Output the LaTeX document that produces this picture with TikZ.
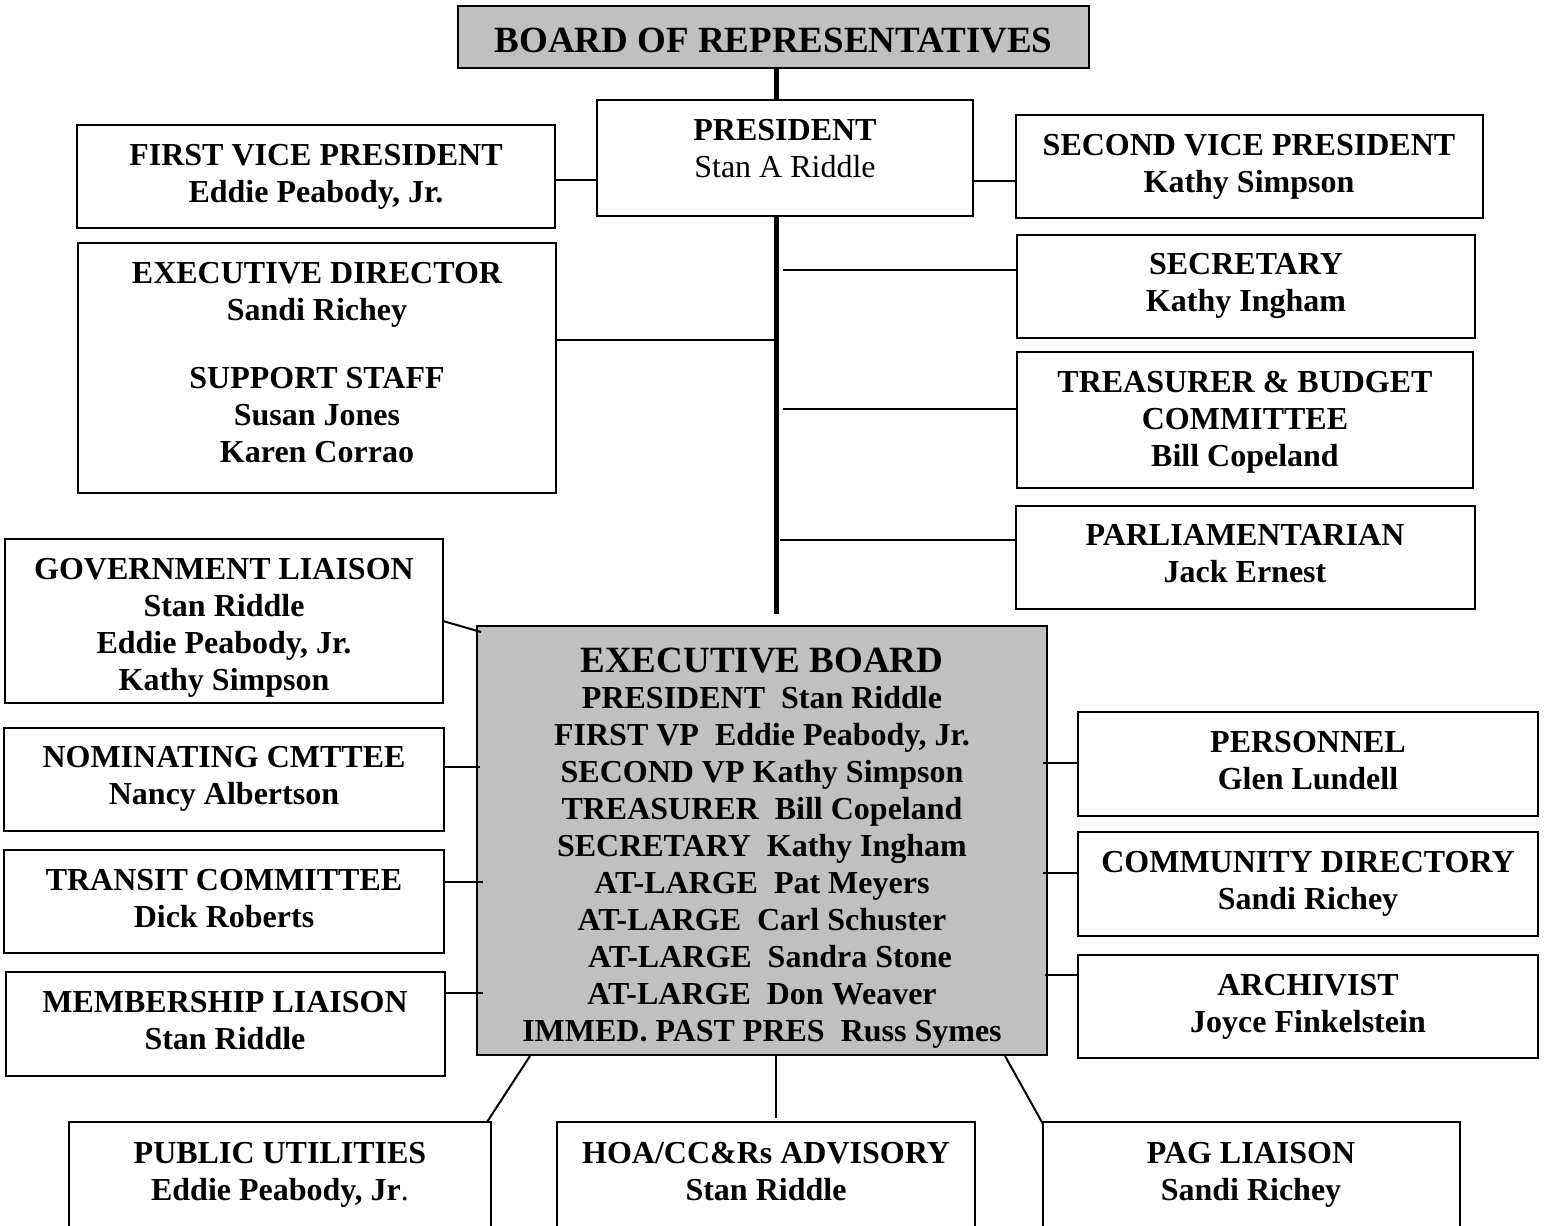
\documentclass[tikz,border=0pt]{standalone}
\usepackage{fontspec}
\setmainfont{Liberation Serif}
\definecolor{boxgray}{RGB}{192,192,192}
\begin{document}
\begin{tikzpicture}[x=1pt,y=-1pt,
  box/.style={draw, line width=2pt, inner sep=0pt},
  gbox/.style={box, fill=boxgray},
  txt/.style={align=center, inner sep=0pt, anchor=north, font=\fontsize{32}{37}\selectfont\bfseries},
  bigtxt/.style={align=center, inner sep=0pt, anchor=north, font=\fontsize{37}{37}\selectfont\bfseries},
  link/.style={line width=2pt},
  trunk/.style={line width=5pt}]
\useasboundingbox (0,0) rectangle (1548,1226);
\newcommand{\bx}[6][box]{\node[#1, minimum width={#4-#2}, minimum height={#5-#3}] (#6) at ({(#2+#4)/2},{(#3+#5)/2}) {};}
% boxes
\bx[gbox]{458}{6}{1089}{68}{board}
\bx{597}{100}{973}{216}{pres}
\bx{77}{125}{555}{228}{fvp}
\bx{1016}{115}{1483}{218}{svp}
\bx{78}{243}{556}{493}{ed}
\bx{1017}{235}{1475}{338}{sec}
\bx{1017}{352}{1473}{488}{tre}
\bx{1016}{506}{1475}{609}{par}
\bx{5}{539}{443}{703}{gov}
\bx[gbox]{477}{626}{1047}{1055}{eb}
\bx{4}{728}{444}{831}{nom}
\bx{4}{850}{444}{953}{tra}
\bx{6}{972}{445}{1076}{mem}
\bx{1078}{712}{1538}{816}{per}
\bx{1078}{832}{1538}{936}{com}
\bx{1078}{955}{1538}{1058}{arc}
\bx{69}{1122}{491}{1240}{pub}
\bx{557}{1122}{975}{1240}{hoa}
\bx{1043}{1122}{1460}{1240}{pag}
% texts
\node[bigtxt] (board-t) at (773.5,27.7) {BOARD OF REPRESENTATIVES};
\node[txt] (pres-t) at (785,119.4) {PRESIDENT\\\mdseries Stan A Riddle};
\node[txt] (fvp-t) at (316,144.4) {FIRST VICE PRESIDENT\\Eddie Peabody, Jr.};
\node[txt] (svp-t) at (1249,134.4) {SECOND VICE PRESIDENT\\Kathy Simpson};
\node[txt] (ed-t) at (317,262.4) {EXECUTIVE DIRECTOR\\Sandi Richey\\[31pt]SUPPORT STAFF\\Susan Jones\\Karen Corrao};
\node[txt] (sec-t) at (1246,253.4) {SECRETARY\\Kathy Ingham};
\node[txt] (tre-t) at (1245,371.4) {TREASURER \& BUDGET\\COMMITTEE\\Bill Copeland};
\node[txt] (par-t) at (1245,524.4) {PARLIAMENTARIAN\\Jack Ernest};
\node[txt] (gov-t) at (224,558.4) {GOVERNMENT LIAISON\\Stan Riddle\\Eddie Peabody, Jr.\\Kathy Simpson};
\node[bigtxt] (eb-t) at (762,647.7) {EXECUTIVE BOARD};
\node[txt] (eb-m) at (762,686.4) {PRESIDENT\ \ Stan Riddle\\FIRST VP\ \ Eddie Peabody, Jr.\\SECOND VP Kathy Simpson\\TREASURER\ \ Bill Copeland\\SECRETARY\ \ Kathy Ingham\\AT-LARGE\ \ Pat Meyers\\AT-LARGE\ \ Carl Schuster\\\hspace{16pt}AT-LARGE\ \ Sandra Stone\\AT-LARGE\ \ Don Weaver\\IMMED. PAST PRES\ \ Russ Symes};
\node[txt] (nom-t) at (224,746.4) {NOMINATING CMTTEE\\Nancy Albertson};
\node[txt] (tra-t) at (224,869.4) {TRANSIT COMMITTEE\\Dick Roberts};
\node[txt] (mem-t) at (225,991.4) {MEMBERSHIP LIAISON\\Stan Riddle};
\node[txt] (per-t) at (1308,731.4) {PERSONNEL\\Glen Lundell};
\node[txt] (com-t) at (1308,851.4) {COMMUNITY DIRECTORY\\Sandi Richey};
\node[txt] (arc-t) at (1308,974.4) {ARCHIVIST\\Joyce Finkelstein};
\node[txt] (pub-t) at (280,1142.4) {PUBLIC UTILITIES\\Eddie Peabody, Jr{\mdseries .}};
\node[txt] (hoa-t) at (766,1142.4) {HOA/CC\&Rs ADVISORY\\Stan Riddle};
\node[txt] (pag-t) at (1251,1142.4) {PAG LIAISON\\Sandi Richey};
% helper coordinates
\coordinate (tx) at (776,0);
\coordinate (tend) at (776,614);
\coordinate (y180) at (0,180);
\coordinate (y181) at (0,181);
\coordinate (secL) at (783,270);
\coordinate (treL) at (783,409);
\coordinate (parL) at (780,540);
\coordinate (edR) at (779,340);
\coordinate (govA) at (443,621);
\coordinate (govB) at (481,632);
\coordinate (nomR) at (480,767);
\coordinate (traR) at (483,882);
\coordinate (memR) at (483,993);
\coordinate (perL) at (1043,763);
\coordinate (comL) at (1043,873);
\coordinate (arcL) at (1045,975);
\coordinate (bl1) at (530,1056);
\coordinate (bl2) at (487,1122);
\coordinate (bm1) at (776,1056);
\coordinate (bm2) at (776,1118);
\coordinate (br1) at (1005,1056);
\coordinate (br2) at (1043,1124);
% connectors
\draw[trunk] (board.south -| tx) -- (pres.north -| tx);
\draw[trunk] (pres.south -| tx) -- (tend);
\draw[link] (fvp.east |- y180) -- (pres.west |- y180);
\draw[link] (pres.east |- y181) -- (svp.west |- y181);
\draw[link] (ed.east |- edR) -- (edR);
\draw[link] (secL) -- (sec.west |- secL);
\draw[link] (treL) -- (tre.west |- treL);
\draw[link] (parL) -- (par.west |- parL);
\draw[link] (govA) -- (govB);
\draw[link] (nom.east |- nomR) -- (nomR);
\draw[link] (tra.east |- traR) -- (traR);
\draw[link] (mem.east |- memR) -- (memR);
\draw[link] (perL) -- (per.west |- perL);
\draw[link] (comL) -- (com.west |- comL);
\draw[link] (arcL) -- (arc.west |- arcL);
\draw[link] (bl1) -- (bl2);
\draw[link] (bm1) -- (bm2);
\draw[link] (br1) -- (br2);
\end{tikzpicture}
\end{document}
